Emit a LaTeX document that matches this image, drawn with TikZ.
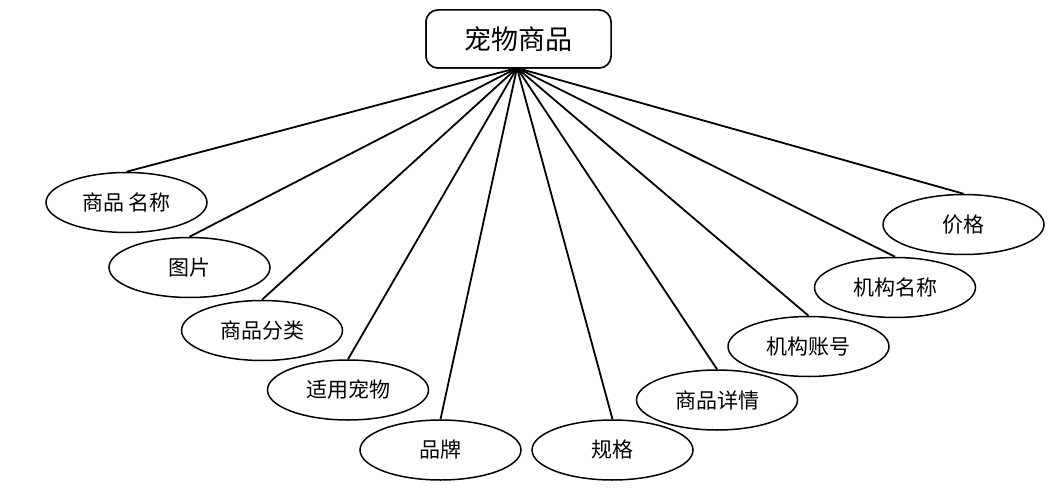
\documentclass[tikz,border=0pt]{standalone}
\usepackage{fontspec}
\newfontfamily\cjk{Noto Sans CJK SC}
\usetikzlibrary{shapes.geometric}
\begin{document}
\begin{tikzpicture}[x=1pt,y=-1pt,
  attr/.style={draw=black, line width=1.5pt, fill=white, ellipse, minimum width=161pt, minimum height=60pt, inner sep=0pt, font=\cjk\fontsize{21}{24}\selectfont},
  topbox/.style={draw=black, line width=1.5pt, fill=white, rounded corners=12pt, minimum width=185pt, minimum height=58pt, inner sep=0pt, font=\cjk\fontsize{27}{30}\selectfont},
  link/.style={line width=1.8pt}]
\useasboundingbox (0,0) rectangle (1062,497);
\node[topbox] (top) at (518.5,39) {宠物商品};
\coordinate (hub) at (517,68);
\node[attr] (a1) at (126.5,202.5) {商品\,名称};
\node[attr] (a2) at (189.5,267.5) {图片};
\node[attr] (a3) at (262,330.5) {商品分类};
\node[attr] (a4) at (348,390) {适用宠物};
\node[attr] (a5) at (440.5,450) {品牌};
\node[attr] (a6) at (612.5,450) {规格};
\node[attr] (a7) at (717,400) {商品详情};
\node[attr] (a8) at (808.5,346.5) {机构账号};
\node[attr] (a9) at (895,287.5) {机构名称};
\node[attr] (a10) at (963.5,224.5) {价格};
\begin{scope}[on background layer/.style={}]
\foreach \i in {1,...,10} {\draw[link] (hub) -- (a\i.north);}
\end{scope}
\node[topbox] at (top) {宠物商品};
\end{tikzpicture}
\end{document}
